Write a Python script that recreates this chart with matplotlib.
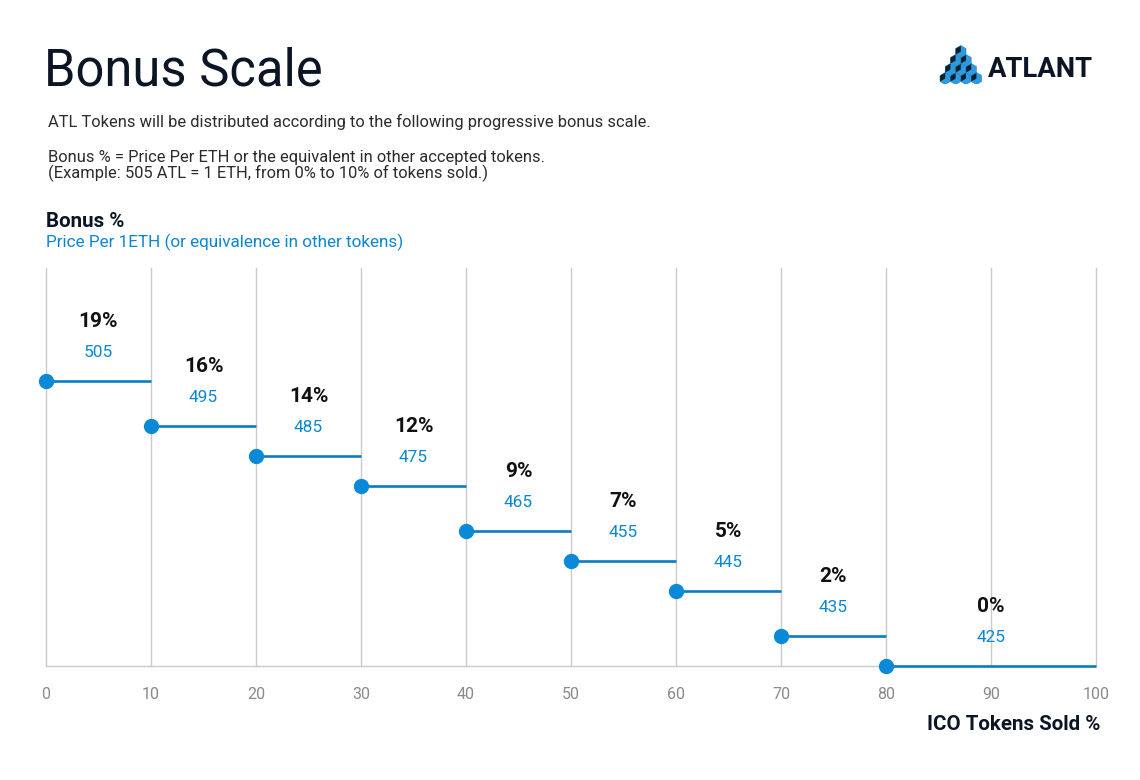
import matplotlib
matplotlib.use("Agg")
import matplotlib.pyplot as plt
from matplotlib.patches import RegularPolygon, Polygon

# data
sold_from = [0, 10, 20, 30, 40, 50, 60, 70, 80]
sold_to = [10, 20, 30, 40, 50, 60, 70, 80, 100]
bonus = [19, 16, 14, 12, 9, 7, 5, 2, 0]
price = [505, 495, 485, 475, 465, 455, 445, 435, 425]
xticks = [0, 10, 20, 30, 40, 50, 60, 70, 80, 90, 100]

navy = '#0b1526'
blue = '#0a87d0'
line_blue = '#0a7cc4'
grid_c = '#cbcbcb'

plt.rcParams['font.family'] = ['Roboto', 'DejaVu Sans']

W, H = 1140, 780
fig = plt.figure(figsize=(W / 100, H / 100), dpi=100)
fig.patch.set_facecolor('white')


def fx(px):
    return px / W


def fy(py):
    return 1 - py / H


# header texts
fig.text(fx(44), fy(85), 'Bonus Scale', fontsize=36.5, color=navy, va='baseline')
fig.text(fx(48), fy(127), 'ATL Tokens will be distributed according to the following progressive bonus scale.',
         fontsize=11.9, color='#2b2b2b', va='baseline')
fig.text(fx(48), fy(162), 'Bonus % = Price Per ETH or the equivalent in other accepted tokens.',
         fontsize=11.9, color='#2b2b2b', va='baseline')
fig.text(fx(48), fy(178), '(Example: 505 ATL = 1 ETH, from 0% to 10% of tokens sold.)',
         fontsize=11.9, color='#2b2b2b', va='baseline')
fig.text(fx(46), fy(227), 'Bonus %', fontsize=14.8, fontweight='bold', color=navy, va='baseline')
fig.text(fx(46), fy(247), 'Price Per 1ETH (or equivalence in other tokens)', fontsize=12.3,
         color=blue, va='baseline')
fig.text(fx(1100), fy(730), 'ICO Tokens Sold %', fontsize=14.8, fontweight='bold', color=navy,
         ha='right', va='baseline')

# logo
fig.text(fx(988), fy(77), 'ATLANT', fontsize=19.8, fontweight='bold', color=navy, va='baseline')
lax = fig.add_axes([fx(939), fy(84), 48 / W, 40 / H])
lax.set_xlim(0, 48)
lax.set_ylim(0, 40)
lax.axis('off')
r = 6.0
for row in range(4):
    n = 4 - row
    for k in range(n):
        cx = 6.2 + row * 5.2 + k * 10.4
        cy = 5.5 + row * 9.0
        lax.add_patch(RegularPolygon((cx, cy), 6, radius=r, orientation=0,
                                     facecolor='#2e9be0', edgecolor='#1f86c9', lw=0.4))
        lax.add_patch(Polygon([(cx - 5.1, cy + 2.8), (cx, cy + 5.8), (cx, cy - 0.2), (cx - 5.1, cy - 3.0)],
                              closed=True, facecolor='#0d2030', lw=0))

# chart
ax = fig.add_axes([fx(46), 114 / H, 1050 / W, 398 / H])
ax.set_xlim(0, 100)
ax.set_ylim(0, 26.5)
ax.set_xticks(xticks)
ax.set_yticks([])
ax.tick_params(axis='x', length=0, pad=15, labelsize=11.5, labelcolor='#8a8a8a')
for s in ['top', 'right', 'left']:
    ax.spines[s].set_visible(False)
ax.spines['bottom'].set_color(grid_c)
ax.spines['bottom'].set_linewidth(1)
for t in xticks:
    ax.axvline(t, color=grid_c, lw=1, zorder=1, clip_on=False)

for x0, x1, b, p in zip(sold_from, sold_to, bonus, price):
    ax.plot([x0, x1], [b, b], color=line_blue, lw=1.9, zorder=3, solid_capstyle='butt', clip_on=False)
    ax.plot([x0], [b], 'o', color='#0a8ad6', markersize=10, zorder=4, clip_on=False)
    xc = (x0 + x1) / 2
    ax.annotate(f'{b}%', (xc, b), xytext=(0, 42.5), textcoords='offset points',
                ha='center', va='center', fontsize=15, fontweight='bold', color='#111111')
    ax.annotate(f'{p}', (xc, b), xytext=(0, 20.5), textcoords='offset points',
                ha='center', va='center', fontsize=12.4, color=blue)

fig.savefig('out.png', dpi=100, facecolor='white')
